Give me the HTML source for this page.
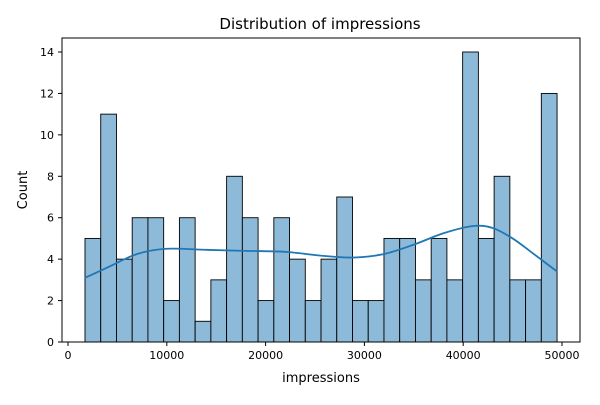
<!DOCTYPE html>
<html><head><meta charset="utf-8"><style>
body{margin:0;background:#fff;font-family:"Liberation Sans","DejaVu Sans",sans-serif}
svg text{font-family:"DejaVu Sans","Liberation Sans",sans-serif}
</style></head><body>
<svg id="chart" width="600" height="400">
<text x="320" y="29" text-anchor="middle" font-size="15">Distribution of impressions</text>
<g id="bars"></g><g id="ticks"></g>
<path id="kde" fill="none" stroke="#1f77b4" stroke-width="1.8"/>
<rect x="62" y="38" width="518" height="304" fill="none" stroke="#000" stroke-width="1"/>
<text x="321" y="382" text-anchor="middle" font-size="13">impressions</text>
<text x="27" y="190" text-anchor="middle" font-size="13" transform="rotate(-90 27 190)">Count</text>
</svg>
<script>
const counts=[5,11,4,6,6,2,6,1,3,8,6,2,6,4,2,4,7,2,2,5,5,3,5,3,14,5,8,3,3,12];
const binStart=1720, binEnd=49500;
const xTicks=[0,10000,20000,30000,40000,50000];
const yTicks=[0,2,4,6,8,10,12,14];
const kdeX=[1720,4000,7000,10000,14000,18000,22000,26000,29000,32000,35000,38000,41000,43000,45000,47000,49500];
const kdeY=[3.1,3.6,4.25,4.5,4.45,4.4,4.35,4.15,4.08,4.25,4.7,5.25,5.6,5.5,5.0,4.3,3.4];
const sx=v=>68+v*(494/50000), sy=v=>342-v*(290/14);
const NS="http://www.w3.org/2000/svg";
const bars=document.getElementById('bars'), ticks=document.getElementById('ticks');
const w=(binEnd-binStart)/counts.length;
counts.forEach((c,i)=>{
 const r=document.createElementNS(NS,'rect');
 const x0=sx(binStart+i*w), x1=sx(binStart+(i+1)*w);
 r.setAttribute('x',x0);r.setAttribute('width',x1-x0);
 r.setAttribute('y',sy(c));r.setAttribute('height',sy(0)-sy(c));
 r.setAttribute('fill','#8dbad9');r.setAttribute('stroke','#000');r.setAttribute('stroke-width','0.9');
 
 
 bars.appendChild(r);
});
function mk(tag,attrs,txt){const e=document.createElementNS(NS,tag);for(const k in attrs)e.setAttribute(k,attrs[k]);if(txt!==undefined)e.textContent=txt;ticks.appendChild(e);return e;}
xTicks.forEach(t=>{
 mk('line',{x1:sx(t),x2:sx(t),y1:342,y2:346,stroke:'#000'});
 const e=mk('text',{x:sx(t),y:359,'text-anchor':'middle','font-size':'11'},t);
 
 
});
yTicks.forEach(t=>{
 mk('line',{x1:58,x2:62,y1:sy(t),y2:sy(t),stroke:'#000'});
 const e=mk('text',{x:54,y:sy(t)+4,'text-anchor':'end','font-size':'11'},t);
 
 
});
const P=kdeX.map((x,i)=>[sx(x),sy(kdeY[i])]);
let d='M'+P[0][0]+','+P[0][1];
for(let i=0;i<P.length-1;i++){
 const p0=P[Math.max(i-1,0)],p1=P[i],p2=P[i+1],p3=P[Math.min(i+2,P.length-1)];
 const c1=[p1[0]+(p2[0]-p0[0])/6,p1[1]+(p2[1]-p0[1])/6];
 const c2=[p2[0]-(p3[0]-p1[0])/6,p2[1]-(p3[1]-p1[1])/6];
 d+='C'+c1+' '+c2+' '+p2;
}
document.getElementById('kde').setAttribute('d',d);
</script>
</body></html>
